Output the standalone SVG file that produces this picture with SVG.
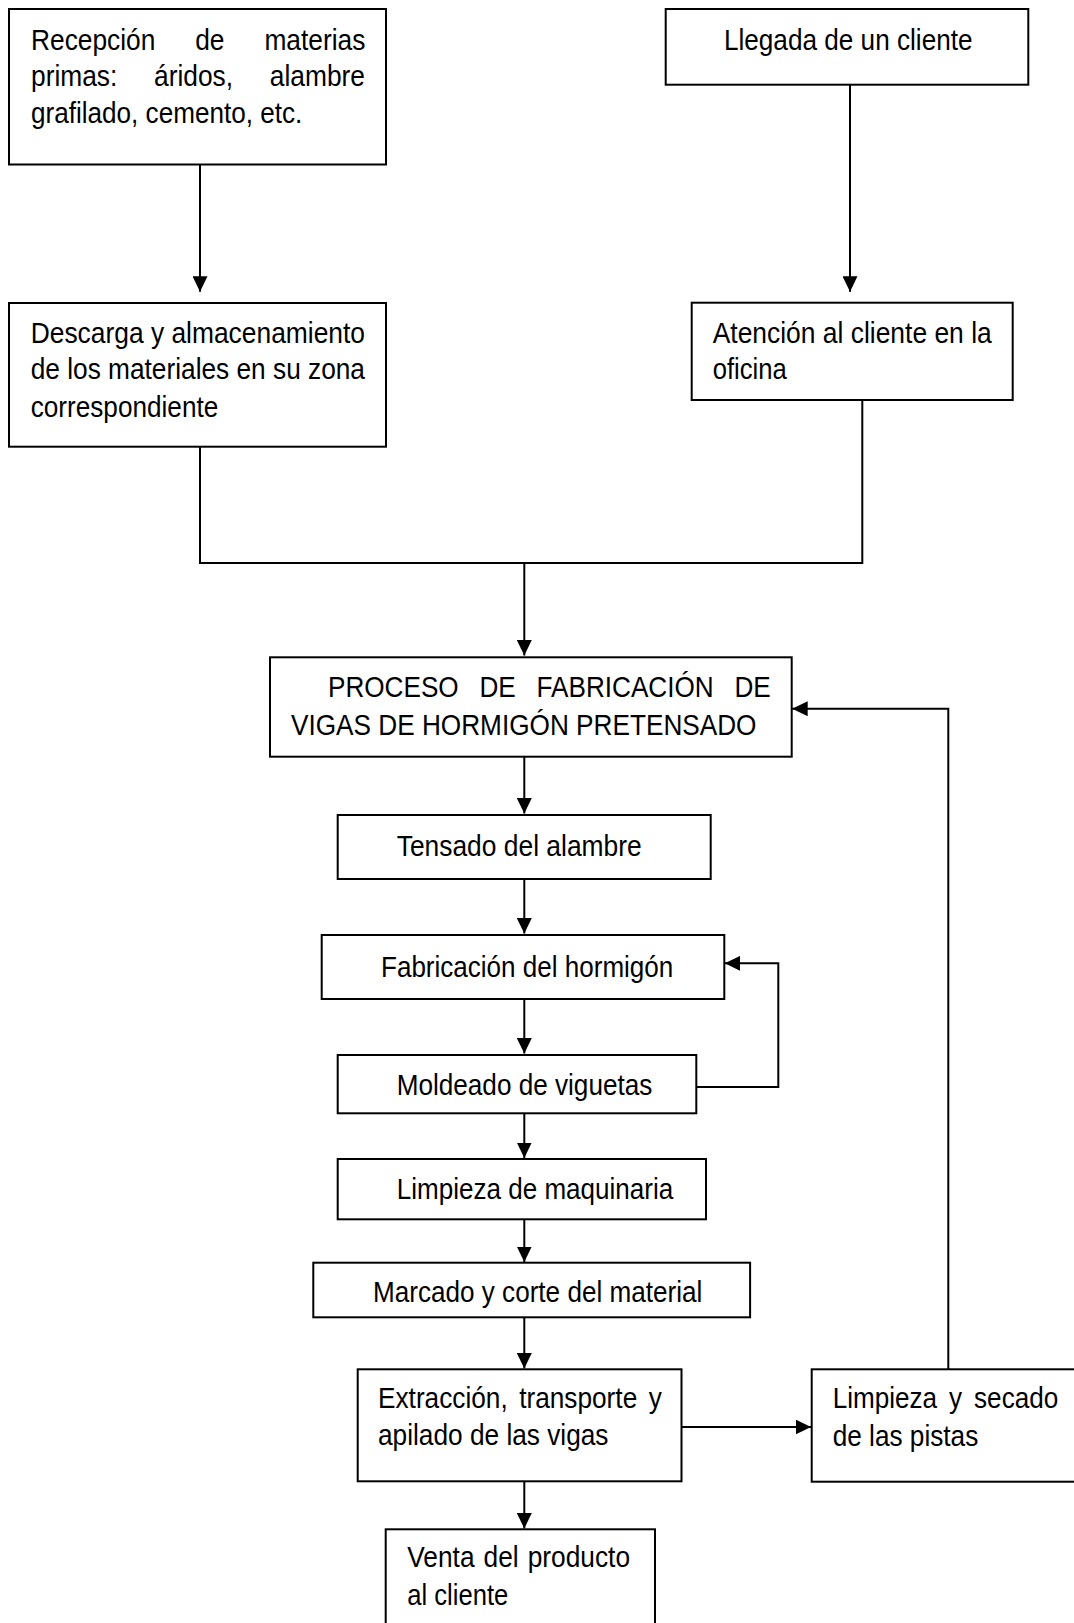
<svg xmlns="http://www.w3.org/2000/svg" width="1074" height="1623" viewBox="0 0 1074 1623">
<defs>
<style>
.box{fill:#fff;stroke:#000;stroke-width:2}
.con{fill:none;stroke:#000;stroke-width:2}
.arr{fill:none;stroke:#000;stroke-width:2;marker-end:url(#ah)}
text{font-family:"Liberation Sans",Arial,sans-serif;font-size:29.5px;fill:#000}
</style>
<marker id="ah" markerUnits="userSpaceOnUse" markerWidth="16" markerHeight="15" refX="15.5" refY="7.5" orient="auto">
<path d="M0,0 L15.5,7.5 L0,15 Z" fill="#000"/>
</marker>
</defs>
<rect width="1074" height="1623" fill="#fff"/>

<g id="connectors">
<path class="arr" d="M200,165 V291.7"/>
<path class="arr" d="M850,85 V291.7"/>
<path class="con" d="M200,446.7 V563 H862.3 V400"/>
<path class="arr" d="M524.3,563 V655.5"/>
<path class="arr" d="M524.3,756.7 V813.5"/>
<path class="arr" d="M524.3,879 V933.5"/>
<path class="arr" d="M524.3,999 V1053.5"/>
<path class="arr" d="M524.3,1113.3 V1158"/>
<path class="arr" d="M524.3,1219.3 V1262"/>
<path class="arr" d="M524.3,1317.3 V1368.5"/>
<path class="arr" d="M524.3,1481.3 V1528.5"/>
<path class="arr" d="M696.3,1087 H778.3 V963.3 H724.8"/>
<path class="arr" d="M681.5,1427 H811"/>
<path class="arr" d="M948.3,1369.3 V708.7 H792.2"/>
</g>

<g id="n1">
<rect class="box" x="9" y="9" width="377" height="155.5"/>
<text x="31" y="49.5" word-spacing="36.5" textLength="334.3" lengthAdjust="spacingAndGlyphs">Recepción de materias</text>
<text x="31" y="86" word-spacing="33" textLength="334" lengthAdjust="spacingAndGlyphs">primas: áridos, alambre</text>
<text x="31" y="122.7" textLength="271.3" lengthAdjust="spacingAndGlyphs">grafilado, cemento, etc.</text>
</g>

<g id="n2">
<rect class="box" x="9" y="303" width="377" height="143.7"/>
<text x="30.7" y="342.7" textLength="334.3" lengthAdjust="spacingAndGlyphs">Descarga y almacenamiento</text>
<text x="30.7" y="379.3" textLength="334.3" lengthAdjust="spacingAndGlyphs">de los materiales en su zona</text>
<text x="30.7" y="416.7" textLength="187.6" lengthAdjust="spacingAndGlyphs">correspondiente</text>
</g>

<g id="n3">
<rect class="box" x="665.7" y="9" width="362.6" height="75.7"/>
<text x="723.9" y="50" textLength="248.7" lengthAdjust="spacingAndGlyphs">Llegada de un cliente</text>
</g>

<g id="n4">
<rect class="box" x="691.7" y="302.7" width="321" height="97.3"/>
<text x="712.7" y="342.7" textLength="279" lengthAdjust="spacingAndGlyphs">Atención al cliente en la</text>
<text x="712.7" y="379.3" textLength="74" lengthAdjust="spacingAndGlyphs">oficina</text>
</g>

<g id="n5">
<rect class="box" x="270" y="657.3" width="521.7" height="99.4"/>
<text x="328" y="696.7" word-spacing="15.3" textLength="442.8" lengthAdjust="spacingAndGlyphs">PROCESO DE FABRICACIÓN DE</text>
<text x="291" y="735" textLength="465.5" lengthAdjust="spacingAndGlyphs">VIGAS DE HORMIGÓN PRETENSADO</text>
</g>

<g id="n6">
<rect class="box" x="337.7" y="815" width="373" height="64"/>
<text x="396.7" y="856" textLength="245" lengthAdjust="spacingAndGlyphs">Tensado del alambre</text>
</g>

<g id="n7">
<rect class="box" x="321.7" y="935" width="402.6" height="64"/>
<text x="381" y="976.7" textLength="292.3" lengthAdjust="spacingAndGlyphs">Fabricación del hormigón</text>
</g>

<g id="n8">
<rect class="box" x="337.7" y="1055" width="358.6" height="58.3"/>
<text x="396.7" y="1095" textLength="255.6" lengthAdjust="spacingAndGlyphs">Moldeado de viguetas</text>
</g>

<g id="n9">
<rect class="box" x="337.7" y="1159" width="368.3" height="60.3"/>
<text x="396.7" y="1199.3" textLength="276.6" lengthAdjust="spacingAndGlyphs">Limpieza de maquinaria</text>
</g>

<g id="n10">
<rect class="box" x="313.3" y="1262.7" width="436.8" height="54.6"/>
<text x="373" y="1302.3" textLength="329.3" lengthAdjust="spacingAndGlyphs">Marcado y corte del material</text>
</g>

<g id="n11">
<rect class="box" x="357.7" y="1369.3" width="323.8" height="112"/>
<text x="378" y="1408.3" word-spacing="4.7" textLength="283.8" lengthAdjust="spacingAndGlyphs">Extracción, transporte y</text>
<text x="378" y="1445" textLength="230.5" lengthAdjust="spacingAndGlyphs">apilado de las vigas</text>
</g>

<g id="n12">
<rect class="box" x="811.7" y="1369.3" width="300" height="112.4"/>
<text transform="translate(832.7,1408.3) scale(0.885,1)" x="0" y="0" word-spacing="5.3">Limpieza y secado</text>
<text x="832.7" y="1446" textLength="145.6" lengthAdjust="spacingAndGlyphs">de las pistas</text>
</g>

<g id="n13">
<rect class="box" x="385.7" y="1529.3" width="269.3" height="120"/>
<text x="407.3" y="1567" word-spacing="2" textLength="222.7" lengthAdjust="spacingAndGlyphs">Venta del producto</text>
<text x="407.3" y="1604.5" textLength="101" lengthAdjust="spacingAndGlyphs">al cliente</text>
</g>
</svg>
